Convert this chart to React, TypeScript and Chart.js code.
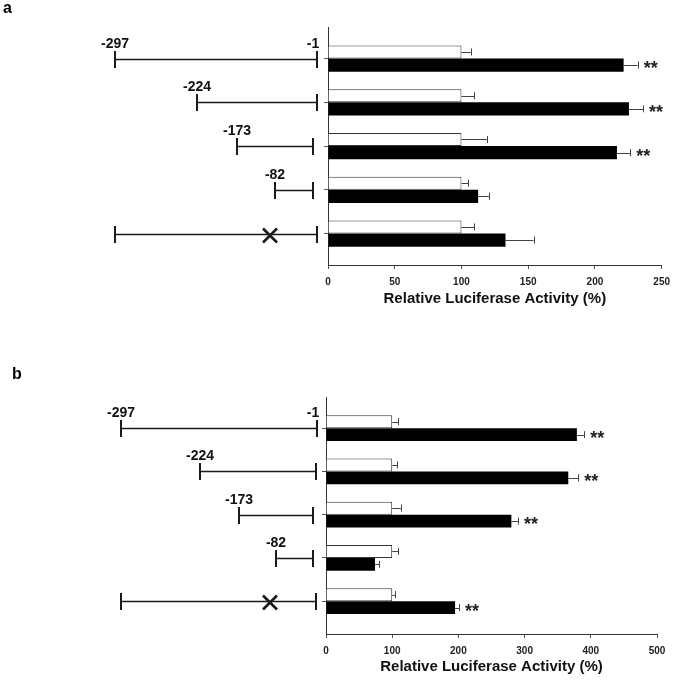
import React, { useEffect, useRef } from "react";
import { Chart, registerables } from "chart.js";

Chart.register(...registerables);

const FONT = "'Liberation Sans', Arial, Helvetica, sans-serif";

// Constructs (promoter deletion series); last one is the mutated full-length construct
const categories = ["-297/-1", "-224/-1", "-173/-1", "-82/-1", "-297/-1 mut"];
const startLabels = ["-297", "-224", "-173", "-82", ""];
const endLabels = ["-1", "", "", "", ""];
const mutated = [false, false, false, false, true];

const xTitle = "Relative Luciferase Activity (%)";

// Panel a
const aControl = [100, 100, 100, 100, 100];
const aControlErr = [7, 9.5, 19, 5, 9.5];
const aTreated = [221.5, 225.5, 216.5, 112.5, 133];
const aTreatedErr = [10.5, 10.5, 10, 8, 21];
const aSignif = ["**", "**", "**", "", ""];
const aMax = 250;
const aStep = 50;

// Panel b
const bControl = [100, 100, 100, 100, 100];
const bControlErr = [9, 8, 13, 9, 4];
const bTreated = [379, 366, 280, 74, 195];
const bTreatedErr = [11, 15, 10, 6.5, 6];
const bSignif = ["**", "**", "**", "", "**"];
const bMax = 500;
const bStep = 100;

type Spec = {
  letter: string;
  letterX: number;
  letterY: number;
  control: number[];
  controlErr: number[];
  treated: number[];
  treatedErr: number[];
  signif: string[];
  max: number;
  step: number;
  yMin: number;
  yMax: number;
  top: number;
  height: number;
  pad: { left: number; right: number; top: number; bottom: number };
  xAxisHeight: number;
  titlePadBottom: number;
  diagStarts: number[];
  diagEnds: number[];
  crossAt: number;
};

const specA: Spec = {
  letter: "a",
  letterX: 3,
  letterY: 13,
  control: aControl,
  controlErr: aControlErr,
  treated: aTreated,
  treatedErr: aTreatedErr,
  signif: aSignif,
  max: aMax,
  step: aStep,
  yMin: -0.72,
  yMax: 4.72,
  top: 0,
  height: 340,
  pad: { left: 328, right: 14, top: 27, bottom: 0 },
  xAxisHeight: 75,
  titlePadBottom: 32,
  diagStarts: [-213, -131, -91, -53, -213],
  diagEnds: [-11, -11, -15, -15, -11],
  crossAt: -58,
};

const specB: Spec = {
  letter: "b",
  letterX: 12,
  letterY: 39,
  control: bControl,
  controlErr: bControlErr,
  treated: bTreated,
  treatedErr: bTreatedErr,
  signif: bSignif,
  max: bMax,
  step: bStep,
  yMin: -0.72,
  yMax: 4.76,
  top: 340,
  height: 348,
  pad: { left: 326, right: 20, top: 57, bottom: 0 },
  xAxisHeight: 54,
  titlePadBottom: 12,
  diagStarts: [-205, -126, -87, -50, -205],
  diagEnds: [-9, -10, -13, -13, -10],
  crossAt: -56,
};

function makeOverlay(spec: Spec) {
  return {
    id: "overlay",
    afterDatasetsDraw(chart: any) {
      const ctx: CanvasRenderingContext2D = chart.ctx;
      const xs = chart.scales.x;
      const ys = chart.scales.y;
      const left = chart.chartArea.left;
      ctx.save();
      // error bars + significance
      [0, 1].forEach((di) => {
        const meta = chart.getDatasetMeta(di);
        const vals = di === 0 ? spec.control : spec.treated;
        const errs = di === 0 ? spec.controlErr : spec.treatedErr;
        meta.data.forEach((bar: any, i: number) => {
          const p = bar.getProps(["x", "y"], true);
          const xe = xs.getPixelForValue(vals[i] + errs[i]);
          ctx.strokeStyle = "#4a4040";
          ctx.lineWidth = 1;
          ctx.beginPath();
          ctx.moveTo(p.x, Math.round(p.y) + 0.5);
          ctx.lineTo(xe, Math.round(p.y) + 0.5);
          ctx.moveTo(Math.round(xe) + 0.5, p.y - 3.5);
          ctx.lineTo(Math.round(xe) + 0.5, p.y + 3.5);
          ctx.stroke();
          if (di === 1 && spec.signif[i]) {
            ctx.fillStyle = "#222";
            ctx.font = `bold 18px ${FONT}`;
            ctx.textAlign = "left";
            ctx.textBaseline = "alphabetic";
            ctx.fillText(spec.signif[i], xe + 6, p.y + 9);
          }
        });
      });
      // construct diagrams
      ctx.strokeStyle = "#1a1a1a";
      ctx.fillStyle = "#111";
      ctx.font = `bold 14px ${FONT}`;
      ctx.textBaseline = "alphabetic";
      categories.forEach((_c, i) => {
        const y = Math.round(ys.getPixelForValue(i)) + 0.5;
        const x0 = left + spec.diagStarts[i];
        const x1 = left + spec.diagEnds[i];
        ctx.lineWidth = 1.5;
        ctx.beginPath();
        ctx.moveTo(x0, y);
        ctx.lineTo(x1, y);
        ctx.stroke();
        ctx.lineWidth = 2;
        ctx.beginPath();
        ctx.moveTo(x0, y - 8.5);
        ctx.lineTo(x0, y + 8.5);
        ctx.moveTo(x1, y - 8.5);
        ctx.lineTo(x1, y + 8.5);
        ctx.stroke();
        if (startLabels[i]) {
          ctx.textAlign = "center";
          ctx.fillText(startLabels[i], x0, y - 12);
        }
        if (endLabels[i]) {
          ctx.textAlign = "center";
          ctx.fillText(endLabels[i], x1 - 4, y - 12);
        }
        if (mutated[i]) {
          const cx = left + spec.crossAt;
          const cy = y + 1;
          ctx.lineWidth = 2.6;
          ctx.beginPath();
          ctx.moveTo(cx - 7, cy - 7);
          ctx.lineTo(cx + 7, cy + 7);
          ctx.moveTo(cx + 7, cy - 7);
          ctx.lineTo(cx - 7, cy + 7);
          ctx.stroke();
        }
      });
      // panel letter
      ctx.fillStyle = "#000";
      ctx.font = `bold 16px ${FONT}`;
      ctx.textAlign = "left";
      ctx.fillText(spec.letter, spec.letterX, spec.letterY);
      ctx.restore();
    },
  };
}

function Panel({ spec }: { spec: Spec }) {
  const ref = useRef<HTMLCanvasElement | null>(null);
  useEffect(() => {
    if (!ref.current) return;
    const chart = new Chart(ref.current, {
      type: "bar",
      data: {
        datasets: [
          {
            label: "Control",
            data: spec.control.map((v, i) => ({ x: v, y: i })),
            backgroundColor: "#ffffff",
            borderColor: "#3a3535",
            borderWidth: 1,
            borderSkipped: "start",
            categoryPercentage: 0.6,
            barPercentage: 1,
          },
          {
            label: "Treated",
            data: spec.treated.map((v, i) => ({ x: v, y: i })),
            backgroundColor: "#000000",
            borderWidth: 0,
            categoryPercentage: 0.6,
            barPercentage: 1,
          },
        ] as any,
      },
      options: {
        indexAxis: "y",
        animation: false,
        responsive: false,
        maintainAspectRatio: false,
        layout: { padding: spec.pad },
        plugins: {
          legend: { display: false },
          tooltip: { enabled: false },
        },
        scales: {
          x: {
            type: "linear",
            position: "bottom",
            min: 0,
            max: spec.max,
            offset: false,
            ticks: {
              stepSize: spec.step,
              color: "#222",
              font: { family: FONT, size: 10, weight: "bold" },
              padding: 7,
              maxRotation: 0,
            },
            grid: {
              display: true,
              offset: false,
              drawOnChartArea: false,
              drawTicks: true,
              tickLength: 4,
              color: "#555",
            },
            border: { display: true, color: "#333", width: 1 },
            title: {
              display: true,
              text: xTitle,
              color: "#111",
              font: { family: FONT, size: 15, weight: "bold" },
              padding: { top: 0, bottom: spec.titlePadBottom },
            },
            afterFit: (s: any) => {
              s.height = spec.xAxisHeight;
            },
          },
          y: {
            type: "linear",
            position: "left",
            reverse: true,
            offset: false,
            min: spec.yMin,
            max: spec.yMax,
            ticks: { stepSize: 1, includeBounds: false, display: false },
            grid: {
              display: true,
              offset: false,
              drawOnChartArea: false,
              drawTicks: true,
              tickLength: 4,
              color: "#555",
            },
            border: { display: true, color: "#333", width: 1 },
            afterFit: (s: any) => {
              s.width = 0;
            },
          },
        },
      } as any,
      plugins: [makeOverlay(spec)],
    });
    return () => chart.destroy();
  }, [spec]);
  return (
    <canvas
      ref={ref}
      width={677}
      height={spec.height}
      style={{ position: "absolute", left: 0, top: spec.top, width: 677, height: spec.height }}
    />
  );
}

export default function App() {
  return (
    <div
      style={{
        position: "absolute",
        left: 0,
        top: 0,
        width: 677,
        height: 688,
        background: "#fff",
        fontFamily: FONT,
      }}
    >
      <Panel spec={specA} />
      <Panel spec={specB} />
    </div>
  );
}
